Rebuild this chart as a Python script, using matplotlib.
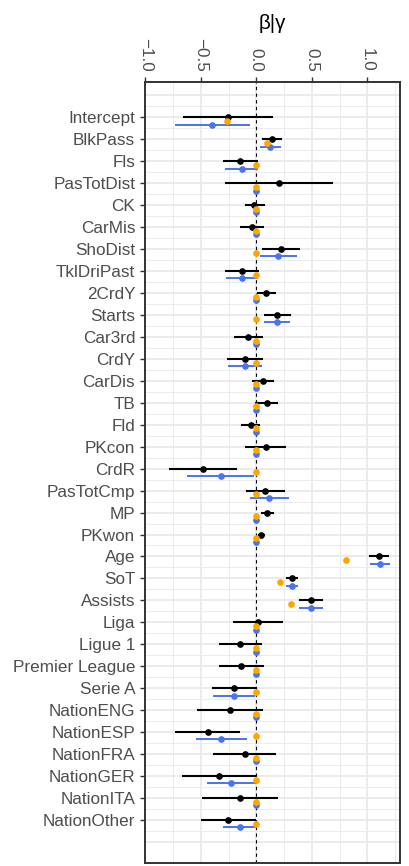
"""係数プロット (β|γ) を out.png に描く."""

import matplotlib

matplotlib.use("Agg")
import matplotlib.pyplot as plt
import numpy as np

plt.rcParams["font.family"] = ["Liberation Sans", "DejaVu Sans"]

CATEGORIES = [
    "Intercept", "BlkPass", "Fls", "PasTotDist", "CK", "CarMis", "ShoDist",
    "TklDriPast", "2CrdY", "Starts", "Car3rd", "CrdY", "CarDis", "TB", "Fld",
    "PKcon", "CrdR", "PasTotCmp", "MP", "PKwon", "Age", "SoT", "Assists",
    "Liga", "Ligue 1", "Premier League", "Serie A", "NationENG", "NationESP",
    "NationFRA", "NationGER", "NationITA", "NationOther",
]

# black: estimate + interval
BLACK_EST = [
    -0.254, 0.141, -0.147, 0.204, -0.018, -0.039, 0.222, -0.129, 0.087, 0.186,
    -0.072, -0.099, 0.057, 0.093, -0.051, 0.084, -0.482, 0.081, 0.096, 0.045,
    1.105, 0.323, 0.494, 0.012, -0.147, -0.135, -0.201, -0.240, -0.437, -0.105,
    -0.332, -0.150, -0.251,
]
BLACK_LO = [
    -0.659, 0.048, -0.299, -0.284, -0.102, -0.150, 0.051, -0.281, 0.003, 0.069,
    -0.204, -0.260, -0.042, -0.009, -0.135, -0.099, -0.784, -0.096, 0.039, 0.018,
    1.015, 0.266, 0.386, -0.210, -0.335, -0.332, -0.401, -0.539, -0.737, -0.386,
    -0.671, -0.491, -0.503,
]
BLACK_HI = [
    0.150, 0.234, 0.012, 0.692, 0.075, 0.069, 0.392, 0.024, 0.174, 0.308,
    0.063, 0.063, 0.156, 0.195, 0.036, 0.269, -0.174, 0.260, 0.159, 0.075,
    1.195, 0.377, 0.605, 0.240, 0.051, 0.066, -0.006, 0.063, -0.144, 0.174,
    0.000, 0.195, 0.000,
]

# blue: estimate + interval (0 は縮退)
BLUE_EST = [
    -0.395, 0.126, -0.132, 0.0, 0.0, 0.0, 0.195, -0.126, 0.0, 0.186,
    0.0, -0.102, 0.0, 0.0, 0.0, 0.0, -0.320, 0.114, 0.0, 0.0,
    1.111, 0.320, 0.491, 0.0, 0.0, 0.0, -0.201, 0.0, -0.317, 0.0,
    -0.225, 0.0, -0.150,
]
BLUE_LO = [
    -0.730, 0.033, -0.281, 0.0, 0.0, 0.0, 0.030, -0.272, 0.0, 0.069,
    0.0, -0.251, 0.0, 0.0, 0.0, 0.0, -0.623, -0.060, 0.0, 0.0,
    1.027, 0.263, 0.383, 0.0, 0.0, 0.0, -0.392, 0.0, -0.545, 0.0,
    -0.446, 0.0, -0.296,
]
BLUE_HI = [
    -0.060, 0.222, 0.018, 0.0, 0.0, 0.0, 0.362, 0.015, 0.0, 0.305,
    0.0, 0.051, 0.0, 0.0, 0.0, 0.0, -0.018, 0.290, 0.0, 0.0,
    1.201, 0.374, 0.605, 0.0, 0.0, 0.0, -0.012, 0.0, -0.084, 0.0,
    -0.003, 0.0, 0.000,
]

# orange: point only
ORANGE_EST = [
    -0.266, 0.099, 0.0, 0.0, 0.0, 0.0, 0.0, 0.0, 0.0, 0.0,
    0.0, 0.0, 0.0, 0.0, 0.0, 0.0, 0.0, 0.0, 0.0, 0.0,
    0.808, 0.210, 0.311, 0.0, 0.0, 0.0, 0.0, 0.0, 0.0, 0.0,
    0.0, 0.0, 0.0,
]

XTICKS = [-1.0, -0.5, 0.0, 0.5, 1.0]
XTICK_LABELS = ["\u22121.0", "\u22120.5", "0.0", "0.5", "1.0"]

BLACK = "#000000"
BLUE = "#4A73F0"
ORANGE = "#FFA500"
GRID = "#EBEBEB"
TEXT = "#4D4D4D"
BORDER = "#333333"

# y のずらし量 (カテゴリ 1 行 = 1.0)
OFF_ORANGE = 0.167
OFF_BLUE = 0.333


def main() -> None:
    fig = plt.figure(figsize=(4.1, 8.66), dpi=100)
    ax = fig.add_axes([0.3537, 0.0035, 0.6226, 0.9018])

    n = len(CATEGORIES)
    y = np.arange(n)

    # grid (手描き: 上下に 1 行分はみ出す)
    for v in range(-1, n + 1):
        ax.axhline(v, color=GRID, lw=1.4, zorder=0)
    for v in np.arange(-0.5, n + 0.5, 1.0):
        ax.axhline(v, color=GRID, lw=0.7, zorder=0)
    for v in XTICKS:
        ax.axvline(v, color=GRID, lw=1.4, zorder=0)
    for v in [-0.75, -0.25, 0.25, 0.75, 1.25]:
        ax.axvline(v, color=GRID, lw=0.7, zorder=0)

    ax.axvline(0.0, color="black", lw=0.8, ls=(0, (3, 3)), zorder=1.5)

    ax.hlines(y, BLACK_LO, BLACK_HI, color=BLACK, lw=1.5, zorder=2)
    ax.plot(BLACK_EST, y, "o", color=BLACK, ms=3.8, zorder=3)

    yb = y + OFF_BLUE
    ax.hlines(yb, BLUE_LO, BLUE_HI, color=BLUE, lw=1.4, zorder=2)
    ax.plot(BLUE_EST, yb, "o", color=BLUE, ms=3.8, zorder=3)

    ax.plot(ORANGE_EST, y + OFF_ORANGE, "o", color=ORANGE, ms=3.8, zorder=4)

    ax.set_xlim(-1.003, 1.297)
    ax.set_ylim(n - 1 + 1.96, -1.61)

    ax.set_yticks(y)
    ax.set_yticklabels(CATEGORIES)
    ax.set_xticks(XTICKS)
    ax.set_xticklabels(XTICK_LABELS)
    ax.xaxis.tick_top()
    ax.xaxis.set_label_position("top")
    ax.set_xlabel("\u03b2|\u03b3", fontsize=14.8, labelpad=7)

    ax.tick_params(axis="both", colors=BORDER, length=3.6, width=1.0,
                   labelcolor=TEXT, labelsize=12.3)
    ax.tick_params(axis="y", pad=3.5)
    ax.tick_params(axis="x", pad=3.5)
    for lab in ax.get_xticklabels():
        lab.set_rotation(-90)
        lab.set_ha("center")
        lab.set_va("bottom")

    for sp in ax.spines.values():
        sp.set_color(BORDER)
        sp.set_linewidth(1.4)

    fig.savefig("out.png", dpi=100)
    plt.close(fig)


if __name__ == "__main__":
    main()
